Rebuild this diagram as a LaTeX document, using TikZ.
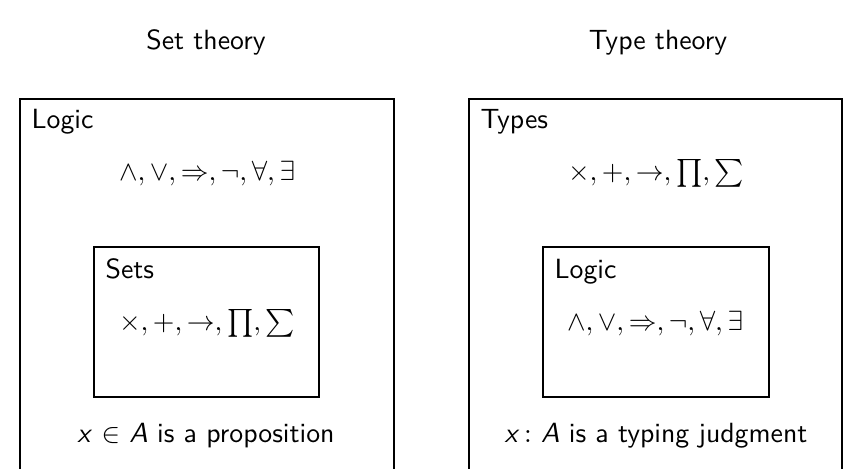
\documentclass[tikz,border=0pt]{standalone}
\begin{document}
\begin{tikzpicture}[x=0.36pt,y=-0.36pt,
  lbl/.style={font=\sffamily, inner sep=0pt},
  title/.style={font=\sffamily, inner sep=0pt, anchor=base},
  frame/.style={draw=black, line width=0.45pt},
  ops/.style={inner sep=0pt, anchor=base}]
\clip (0,0) rectangle (843,469);
% titles
\node[title] (tset) at (206,49.5) {Set theory};
\node[title] (ttype) at (658,49.5) {Type theory};
% left outer box
\draw[frame] (20,520) -- (20,99) -- (394,99) -- (394,520);
\node[lbl, anchor=base west] (llogic) at (31,128) {Logic};
\node[ops] (lops) at (207,180) {$\wedge, \vee, \Rightarrow, \neg, \forall, \exists$};
\node[frame, minimum width=225*0.36pt, minimum height=150*0.36pt, inner sep=0pt] (lin) at (206.5,322) {};
\node[lbl, anchor=base west] (lsets) at (105,278) {Sets};
\node[ops] (lops2) at (207,330) {$\times, +, \rightarrow, \prod, \sum$};
\node[lbl, anchor=base] (lbot) at (206,442) {\textit{x} $\in$ \textit{A} is a proposition};
% right outer box
\draw[frame] (469,520) -- (469,99) -- (842,99) -- (842,520);
\node[lbl, anchor=base west] (rtypes) at (480,128) {Types};
\node[ops] (rops) at (656,180) {$\times, +, \rightarrow, \prod, \sum$};
\node[frame, minimum width=226*0.36pt, minimum height=150*0.36pt, inner sep=0pt] (rin) at (656,322) {};
\node[lbl, anchor=base west] (rlogic) at (554,278) {Logic};
\node[ops] (rops2) at (655,330) {$\wedge, \vee, \Rightarrow, \neg, \forall, \exists$};
\node[lbl, anchor=base] (rbot) at (656,442) {\textit{x}$\,\colon$ \textit{A} is a typing judgment};
\end{tikzpicture}
\end{document}
